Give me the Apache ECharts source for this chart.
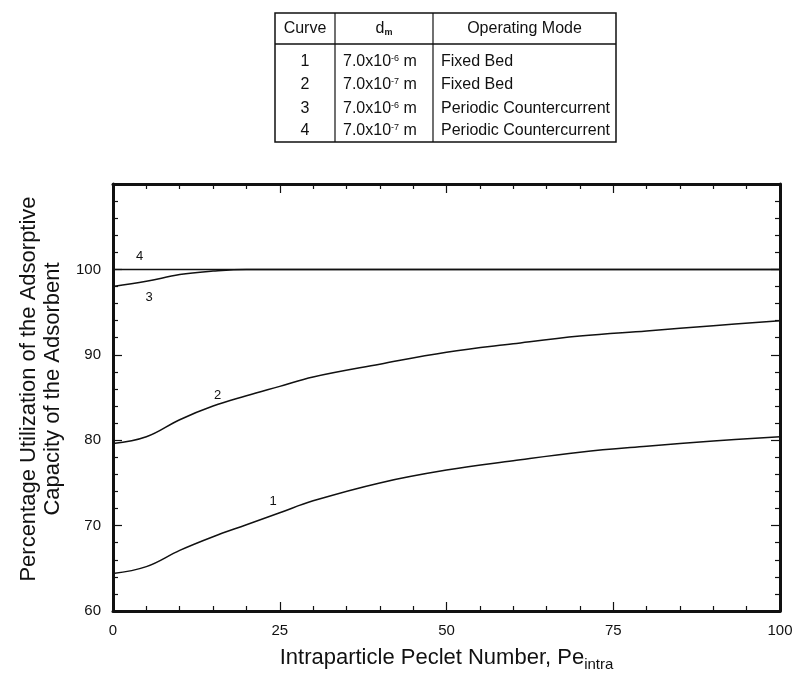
<!DOCTYPE html>
<html>
<head>
<meta charset="utf-8">
<script src="https://cdn.jsdelivr.net/npm/echarts@6/dist/echarts.min.js"></script>
<style>
  html, body { margin: 0; padding: 0; background: #fff; }
  #chart-container { width: 802px; height: 679px; }
</style>
</head>
<body>
<div id="chart-container"></div>
<script>
// Pe_intra values and utilization (%)
let peX = [0, 5, 10, 15, 20, 25, 30, 40, 50, 60, 70, 80, 90, 100];
let curve1 = [64.4, 65.2, 67.1, 68.7, 70.1, 71.5, 72.9, 75.0, 76.5, 77.6, 78.6, 79.3, 79.9, 80.4];
let curve2 = [79.6, 80.4, 82.4, 84.0, 85.2, 86.3, 87.4, 88.9, 90.3, 91.3, 92.2, 92.8, 93.4, 94.0];
let curve3 = [98.0, 98.6, 99.4, 99.8, 100, 100, 100, 100, 100, 100, 100, 100, 100, 100];
let curve4 = [100, 100, 100, 100, 100, 100, 100, 100, 100, 100, 100, 100, 100, 100];
let curveNames = ["1", "2", "3", "4"];
let labelPos = [[24, 72.8], [15.7, 85.2], [5.4, 96.7], [4, 101.5]];
let tableHeader = ["Curve", "d{sub|m}", "Operating Mode"];
let tableRows = [
    ["1", "7.0x10{sup|-6} m", "Fixed Bed"],
    ["2", "7.0x10{sup|-7} m", "Fixed Bed"],
    ["3", "7.0x10{sup|-6} m", "Periodic Countercurrent"],
    ["4", "7.0x10{sup|-7} m", "Periodic Countercurrent"],
];

let dom = document.getElementById("chart-container");
let myChart = echarts.init(dom, null, { renderer: "canvas" });

const font = "Liberation Sans, Arial, sans-serif";
const ink = "#111";

function toPairs(ys) {
    return peX.map((x, i) => [x, ys[i]]);
}

// table drawn with graphic elements
let tTop = 13, tBottom = 142;
let colX = [275, 335, 433, 616];
let headY = 44;
let rowY = [62, 85, 109, 131];
let tFont = "16px " + font;
let tableGraphic = [
    { type: "rect", shape: { x: colX[0], y: tTop, width: colX[3] - colX[0], height: tBottom - tTop },
      style: { fill: "none", stroke: ink, lineWidth: 1.5 } },
    { type: "line", shape: { x1: colX[0], y1: headY, x2: colX[3], y2: headY }, style: { stroke: ink, lineWidth: 1.5 } },
    { type: "line", shape: { x1: colX[1], y1: tTop, x2: colX[1], y2: tBottom }, style: { stroke: ink, lineWidth: 1.2 } },
    { type: "line", shape: { x1: colX[2], y1: tTop, x2: colX[2], y2: tBottom }, style: { stroke: ink, lineWidth: 1.2 } },
];
tableHeader.forEach((h, c) => {
    tableGraphic.push({ type: "text", x: (colX[c] + colX[c + 1]) / 2, y: 29,
        style: { text: h, font: tFont, fill: ink, textAlign: "center", textVerticalAlign: "middle",
                 rich: { sub: { fontSize: 9, fontWeight: "bold", verticalAlign: "bottom", padding: [7, 0, 0, 0] } } } });
});
tableRows.forEach((r, i) => {
    tableGraphic.push({ type: "text", x: (colX[0] + colX[1]) / 2, y: rowY[i],
        style: { text: r[0], font: tFont, fill: ink, textAlign: "center", textVerticalAlign: "middle" } });
    tableGraphic.push({ type: "text", x: colX[1] + 8, y: rowY[i],
        style: { text: r[1], font: tFont, fill: ink, textAlign: "left", textVerticalAlign: "middle",
                 rich: { sup: { fontSize: 9, verticalAlign: "top", padding: [0, 0, 7, 0] } } } });
    tableGraphic.push({ type: "text", x: colX[2] + 8, y: rowY[i],
        style: { text: r[2], font: tFont, fill: ink, textAlign: "left", textVerticalAlign: "middle" } });
});

// y axis title, two lines rotated
tableGraphic.push({
    type: "text", x: 41, y: 389, rotation: Math.PI / 2,
    style: { text: "Percentage Utilization of the Adsorptive\nCapacity of the Adsorbent",
             font: "22px " + font, fill: ink, textAlign: "center", textVerticalAlign: "middle", lineHeight: 24 }
});

function lineSeries(name, ys, idx) {
    return {
        name: name,
        type: "line",
        smooth: 0.4,
        showSymbol: false,
        data: toPairs(ys),
        lineStyle: { color: ink, width: 1.5 },
        z: 3,
        markPoint: {
            symbol: "circle", symbolSize: 0,
            label: { show: true, formatter: name, color: ink, fontSize: 13, fontFamily: font },
            data: [{ coord: labelPos[idx] }],
        },
    };
}

function frameAxis(extra) {
    return Object.assign({
        type: "value",
        axisLine: { show: true, onZero: false, lineStyle: { color: ink, width: 3 } },
        axisTick: { show: true, inside: true, length: 9, lineStyle: { color: ink, width: 1.2 } },
        minorTick: { show: true, splitNumber: 5, length: 5, lineStyle: { color: ink, width: 1.2 } },
        splitLine: { show: false },
    }, extra);
}

let option = {
    animation: false,
    grid: { left: 113, right: 22, top: 184, bottom: 68, containLabel: false, outerBoundsMode: "none" },
    graphic: tableGraphic,
    xAxis: [
        frameAxis({
            min: 0, max: 100, interval: 25, position: "bottom",
            name: "Intraparticle Peclet Number, Pe{sub|intra}",
            nameLocation: "middle", nameGap: 32,
            nameTextStyle: { fontSize: 22, fontFamily: font, color: ink,
                rich: { sub: { fontSize: 15, verticalAlign: "bottom", padding: [14, 0, 0, 0], fontFamily: font, color: ink } } },
            axisLabel: { fontSize: 15, fontFamily: font, color: ink, margin: 12 },
        }),
        frameAxis({ min: 0, max: 100, interval: 25, position: "top", axisLabel: { show: false } }),
    ],
    yAxis: [
        frameAxis({
            min: 60, max: 110, interval: 10, position: "left",
            axisLabel: { fontSize: 15, fontFamily: font, color: ink, margin: 12,
                         formatter: v => (v > 100 ? "" : v) },
        }),
        frameAxis({ min: 60, max: 110, interval: 10, position: "right", axisLabel: { show: false } }),
    ],
    series: [
        lineSeries(curveNames[0], curve1, 0),
        lineSeries(curveNames[1], curve2, 1),
        lineSeries(curveNames[2], curve3, 2),
        lineSeries(curveNames[3], curve4, 3),
    ],
};

myChart.setOption(option);
window.addEventListener("resize", myChart.resize);
</script>
</body>
</html>
